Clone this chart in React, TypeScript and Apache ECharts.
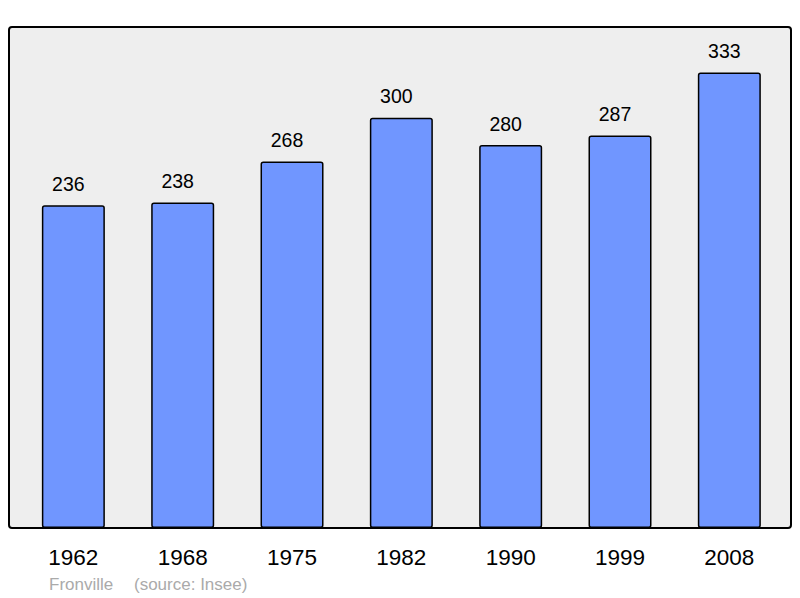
import React, { useEffect, useRef } from "react";
import * as echarts from "echarts";

const years = ["1962", "1968", "1975", "1982", "1990", "1999", "2008"];
const population = [236, 238, 268, 300, 280, 287, 333];
const footerPlace = "Fronville";
const footerSource = "(source: Insee)";

export default function App() {
  const ref = useRef<HTMLDivElement>(null);
  useEffect(() => {
    if (!ref.current) return;
    const chart = echarts.init(ref.current, null, { renderer: "svg" });
    const yMax = Math.max(...population) * 1.1;
    chart.setOption({
      animation: false,
      backgroundColor: "#ffffff",
      grid: { left: 18.7, right: 16, top: 27, bottom: 70, containLabel: false },
      graphic: [
        {
          type: "rect",
          z: -1,
          silent: true,
          shape: { x: 9, y: 27, width: 782, height: 501, r: 3 },
          style: { fill: "#eeeeee", stroke: "#000000", lineWidth: 2 },
        },
        {
          type: "text",
          left: 49,
          top: 576,
          style: {
            text: footerPlace,
            fill: "#aaaaaa",
            font: "17px 'Liberation Sans', Arial, sans-serif",
          },
        },
        {
          type: "text",
          left: 134,
          top: 576,
          style: {
            text: footerSource,
            fill: "#aaaaaa",
            font: "17px 'Liberation Sans', Arial, sans-serif",
          },
        },
      ],
      xAxis: {
        type: "category",
        data: years,
        axisLine: { show: false },
        axisTick: { show: false },
        axisLabel: {
          color: "#000000",
          fontSize: 22.5,
          fontFamily: "'Liberation Sans', Arial, sans-serif",
          margin: 18,
        },
      },
      yAxis: {
        type: "value",
        min: 0,
        max: yMax,
        show: false,
        splitLine: { show: false },
      },
      series: [
        {
          type: "bar",
          data: population,
          barWidth: 63,
          itemStyle: {
            color: "#7096ff",
            borderColor: "#000000",
            borderWidth: 1.5,
            borderRadius: 2,
          },
          label: {
            show: true,
            position: "top",
            distance: 11.5,
            offset: [-5, 0],
            color: "#000000",
            fontSize: 19.5,
            fontFamily: "'Liberation Sans', Arial, sans-serif",
          },
        },
      ],
    });
    return () => chart.dispose();
  }, []);
  return <div ref={ref} style={{ width: 800, height: 598, position: "absolute", left: 0, top: 0 }} />;
}
